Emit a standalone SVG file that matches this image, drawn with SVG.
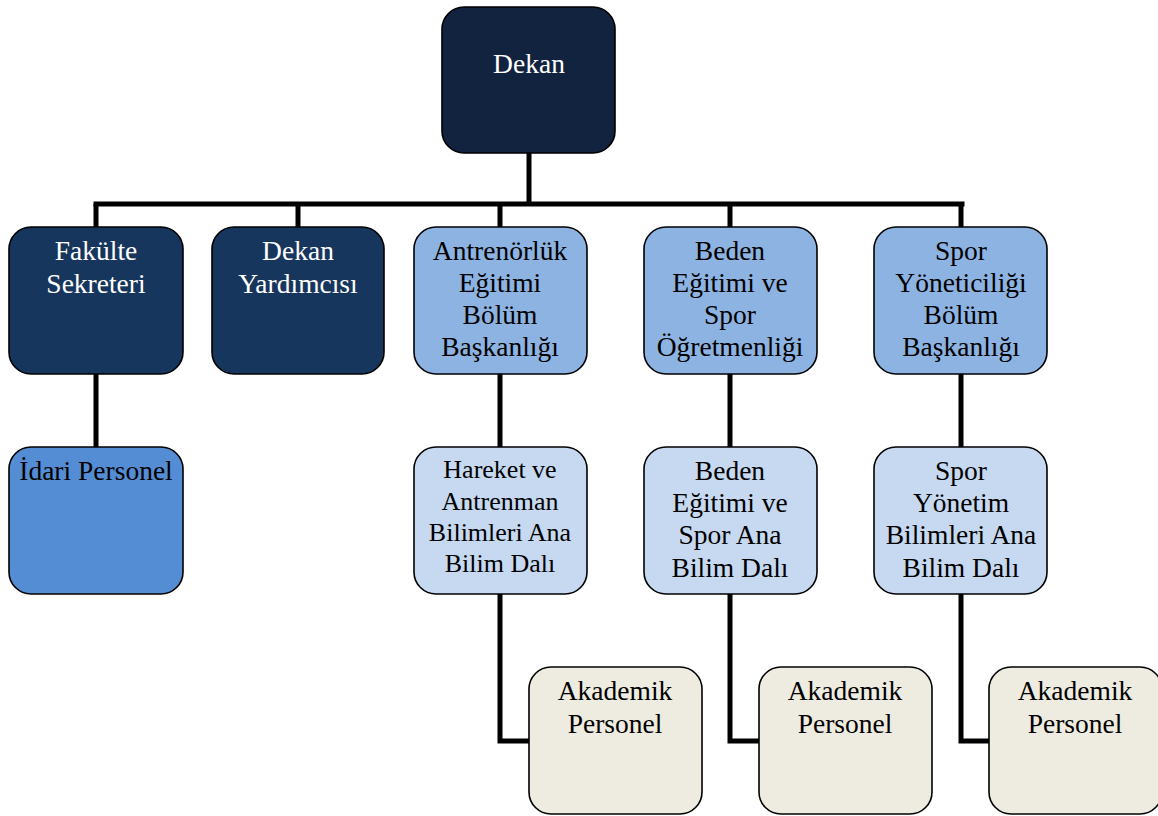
<svg xmlns="http://www.w3.org/2000/svg" width="1158" height="816" viewBox="0 0 1158 816">
<style>
.box{stroke:#000;stroke-width:1.6}
.c0{fill:#11233f}
.c1{fill:#17365d}
.c2{fill:#8db3e2}
.c3{fill:#c6d9f1}
.c4{fill:#548dd4}
.c5{fill:#eeece1}
text{font-family:'Liberation Serif', 'Times New Roman', Times, serif;font-size:27.5px;text-anchor:middle;fill:#000}
text.w{fill:#fff}
text.s{font-size:26px}
.conn{fill:none;stroke:#000;stroke-width:5;stroke-linejoin:miter}
</style>
<rect width="1158" height="816" fill="#fff"/>
<g id="connectors">
<path class="conn" d="M529 153V204"/>
<path class="conn" d="M93.5 204H964.5" stroke-width="6"/>
<path class="conn" d="M96 204V227M298 204V227M500 204V227M730 204V227M961 204V227"/>
<path class="conn" d="M96 374V447"/>
<path class="conn" d="M500 374V447M730 374V447M961 374V447"/>
<path class="conn" d="M500 594V741H529M730 594V741H759M961 594V741H989"/>
</g>
<g id="dekan"><rect class="box c0" x="442" y="7" width="173" height="146" rx="22"/><text class="w" x="529" y="73">Dekan</text></g>
<g id="fakulte-sekreteri"><rect class="box c1" x="9" y="227" width="174" height="147" rx="22"/><text class="w" x="96" y="260">Fakülte</text><text class="w" x="96" y="292.5">Sekreteri</text></g>
<g id="dekan-yardimcisi"><rect class="box c1" x="212" y="227" width="172" height="147" rx="22"/><text class="w" x="298" y="260">Dekan</text><text class="w" x="298" y="292.5">Yardımcısı</text></g>
<g id="antrenorluk"><rect class="box c2" x="414" y="227" width="173" height="147" rx="22"/><text x="500" y="260">Antrenörlük</text><text x="500" y="292">Eğitimi</text><text x="500" y="324">Bölüm</text><text x="500" y="356">Başkanlığı</text></g>
<g id="beden-egitimi"><rect class="box c2" x="644" y="227" width="173" height="147" rx="22"/><text x="730" y="260">Beden</text><text x="730" y="292">Eğitimi ve</text><text x="730" y="324">Spor</text><text x="730" y="356">Öğretmenliği</text></g>
<g id="spor-yoneticiligi"><rect class="box c2" x="874" y="227" width="173" height="147" rx="22"/><text x="961" y="260">Spor</text><text x="961" y="292">Yöneticiliği</text><text x="961" y="324">Bölüm</text><text x="961" y="356">Başkanlığı</text></g>
<g id="idari-personel"><rect class="box c4" x="9" y="447" width="174" height="147" rx="22"/><text x="96" y="480">İdari Personel</text></g>
<g id="hareket"><rect class="box c3" x="414" y="447" width="173" height="147" rx="22"/><text class="s" x="500" y="478">Hareket ve</text><text class="s" x="500" y="510">Antrenman</text><text class="s" x="500" y="541">Bilimleri Ana</text><text class="s" x="500" y="572">Bilim Dalı</text></g>
<g id="beden-ana"><rect class="box c3" x="644" y="447" width="173" height="147" rx="22"/><text x="730" y="480">Beden</text><text x="730" y="512">Eğitimi ve</text><text x="730" y="544">Spor Ana</text><text x="730" y="577">Bilim Dalı</text></g>
<g id="spor-yonetim"><rect class="box c3" x="874" y="447" width="173" height="147" rx="22"/><text x="961" y="480">Spor</text><text x="961" y="512">Yönetim</text><text x="961" y="544">Bilimleri Ana</text><text x="961" y="577">Bilim Dalı</text></g>
<g id="akademik-1"><rect class="box c5" x="529" y="667" width="173" height="147" rx="22"/><text x="615" y="700">Akademik</text><text x="615" y="733">Personel</text></g>
<g id="akademik-2"><rect class="box c5" x="759" y="667" width="173" height="147" rx="22"/><text x="845" y="700">Akademik</text><text x="845" y="733">Personel</text></g>
<g id="akademik-3"><rect class="box c5" x="989" y="667" width="173" height="147" rx="22"/><text x="1075" y="700">Akademik</text><text x="1075" y="733">Personel</text></g>
</svg>
